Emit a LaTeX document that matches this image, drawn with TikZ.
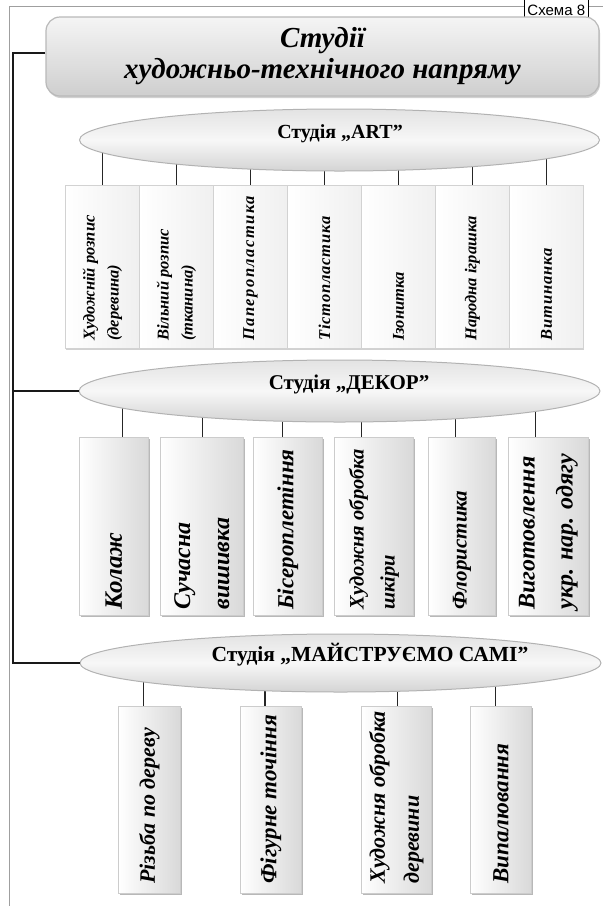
\documentclass[tikz,border=0pt]{standalone}
\usepackage{fontspec}
\setmainfont{Liberation Serif}
\setsansfont{Liberation Sans}
\usetikzlibrary{shapes.geometric,shadows,backgrounds,calc}
\newcommand\myfs[2]{\fontsize{#1}{#2}\selectfont}
\newcommand\spaced[1]{\addfontfeature{LetterSpace=#1}}
\begin{document}
\begin{tikzpicture}[x=1pt,y=-1pt,
  frameline/.style={draw=gray!75, line width=0.8pt},
  bracket/.style={draw=black!90, line width=2pt},
  conn/.style={draw=black!85, line width=1.4pt},
  titlebox/.style={rectangle, rounded corners=14pt, draw=gray!55, line width=1.2pt,
    top color=gray!8, bottom color=gray!38, align=center,
    font=\bfseries\itshape\myfs{29}{31},
    drop shadow={shadow xshift=1pt, shadow yshift=-2pt, fill=gray!60, opacity=0.6}},
  studio/.style={ellipse, draw=gray!60, line width=1pt, inner sep=0pt,
    top color=gray!22, bottom color=gray!34, middle color=gray!6},
  studiolabel/.style={font=\bfseries\myfs{20}{24}, inner sep=0pt},
  artbox/.style={rectangle, draw=gray!35, line width=1pt, anchor=north west, inner sep=0pt,
    left color=white, right color=gray!12,
    drop shadow={shadow xshift=0.8pt, shadow yshift=-1.5pt, fill=gray!60, opacity=0.6}},
  itembox/.style={rectangle, draw=gray!40, line width=0.8pt, anchor=north west, inner sep=0pt,
    left color=white, right color=gray!30,
    drop shadow={shadow xshift=1.5pt, shadow yshift=-2pt, fill=gray!70, opacity=0.8}},
  vtext/.style={rotate=90, anchor=west, align=left, inner sep=0pt, font=\bfseries\itshape}
]
\useasboundingbox (0,0) rectangle (603,906);

% outer frame
\draw[frameline] (9,906) -- (9,6) -- (603,6);
\node[draw=black, line width=0.8pt, fill=white, font=\sffamily\myfs{15}{16},
  anchor=south east, inner xsep=3.5pt, inner ysep=2pt, text height=18pt, text depth=0pt]
  (schema) at (589,17.5) {Схема 8};

% title
\node[titlebox, minimum width=553, minimum height=79] (main) at (322.5,56.5)
  {Студії\\художньо-технічного напряму};

% studio ellipses
\node[studio, minimum width=520, minimum height=62] (art) at (339.5,140) {};
\node[studiolabel] (artlabel) at (340,134) {Студія „ART”};
\node[studio, minimum width=521, minimum height=62] (dekor) at (339.5,391) {};
\node[studiolabel, font=\bfseries\myfs{21}{24}] (dekorlabel) at (349,384) {Студія „ДЕКОР”};
\node[studio, minimum width=521, minimum height=58] (maker) at (340.5,663) {};
\node[studiolabel, font=\bfseries\myfs{21.5}{24}] (makerlabel) at (370,655) {Студія „МАЙСТРУЄМО САМІ”};

% bracket
\coordinate (bx) at (12.5,0);
\coordinate (mainjoin) at ([yshift=3.5pt]main.west);
\draw[bracket] (mainjoin) -- (mainjoin -| bx) -- (maker.west -| bx) -- (maker.west);
\draw[bracket] (dekor.west -| bx) -- (dekor.west);

% ART boxes
\foreach \i/\t [count=\n from 0] in {
  a1/{Художній розпис\\(деревина)},
  a2/{Вільний розпис\\(тканина)},
  a3/{\spaced{9}Паперопластика},
  a4/{\spaced{5}Тістопластика},
  a5/{Ізонитка},
  a6/{Народна іграшка},
  a7/{\spaced{6}Витинанка}}{
  \node[artbox, minimum width=74, minimum height=163] (\i) at (65+74*\n,185) {};
  \node[vtext, font=\bfseries\itshape\myfs{16.5}{24}] (\i t) at ([yshift=8pt]\i.south) {\t};
}

% DEKOR boxes
\node[itembox, minimum width=69, minimum height=178] (d1) at (79,437) {};
\node[itembox, minimum width=83, minimum height=178] (d2) at (160,437) {};
\node[itembox, minimum width=69, minimum height=178] (d3) at (253,437) {};
\node[itembox, minimum width=79, minimum height=178] (d4) at (334,437) {};
\node[itembox, minimum width=67, minimum height=178] (d5) at (428,437) {};
\node[itembox, minimum width=80, minimum height=178] (d6) at (508,437) {};
\node[vtext, font=\bfseries\itshape\myfs{25}{30}] (d1t) at ([yshift=6pt]d1.south) {Колаж};
\node[vtext, font=\bfseries\itshape\myfs{24}{39}] (d2t) at ([yshift=6pt]d2.south) {Сучасна\\вишивка};
\node[vtext, font=\bfseries\itshape\myfs{23}{26}] (d3t) at ([yshift=6pt]d3.south) {Бісероплетіння};
\node[vtext, font=\bfseries\itshape\myfs{20.5}{31}] (d4t) at ([yshift=6pt]d4.south) {Художня обробка\\шкіри};
\node[vtext, font=\bfseries\itshape\myfs{21}{26}] (d5t) at ([yshift=6pt]d5.south) {Флористика};
\node[vtext, font=\bfseries\itshape\myfs{24}{38}] (d6t) at ([yshift=6pt]d6.south) {Виготовлення\\укр. нар. одягу};

% MAKER boxes
\node[itembox, minimum width=62, minimum height=187] (m1) at (118,706) {};
\node[itembox, minimum width=61, minimum height=187] (m2) at (240,706) {};
\node[itembox, minimum width=70, minimum height=187] (m3) at (361,706) {};
\node[itembox, minimum width=61, minimum height=187] (m4) at (470,706) {};
\node[vtext, font=\bfseries\itshape\myfs{22}{26}] (m1t) at ([yshift=10pt]m1.south) {Різьба по дереву};
\node[vtext, font=\bfseries\itshape\myfs{23}{26}] (m2t) at ([yshift=10pt]m2.south) {Фігурне точіння};
\node[vtext, font=\bfseries\itshape\myfs{22}{34}] (m3t) at ([yshift=10pt]m3.south) {Художня обробка\\деревини};
\node[vtext, font=\bfseries\itshape\myfs{23}{26}] (m4t) at ([yshift=10pt]m4.south) {Випалювання};

% connectors (behind the ellipses)
\begin{scope}[on background layer]
  \foreach \i in {a1,a2,a3,a4,a5,a6,a7}
    \draw[conn] (\i.north) -- (\i.north |- art.center);
  \foreach \i/\dx in {d1/8.5,d2/0.5,d3/-5.5,d4/-12.5,d5/-6.5,d6/-13}
    \draw[conn] ([xshift=\dx pt]\i.north) -- ([xshift=\dx pt]\i.north |- dekor.center);
  \foreach \i/\dx in {m1/-6,m2/-6,m3/1,m4/-5.5}
    \draw[conn] ([xshift=\dx pt]\i.north) -- ([xshift=\dx pt]\i.north |- maker.center);
\end{scope}
\end{tikzpicture}
\end{document}
